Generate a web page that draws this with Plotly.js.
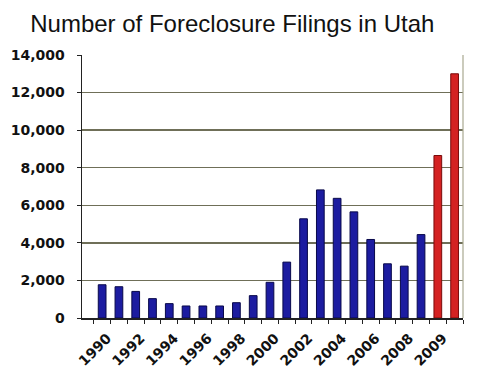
<!DOCTYPE html>
<html>
<head>
<meta charset="utf-8">
<script src="https://cdn.plot.ly/plotly-3.0.1.min.js"></script>
<style>
  html, body { margin: 0; padding: 0; background: #ffffff; }
  #chart { width: 480px; height: 377px; }
</style>
</head>
<body>
<div id="chart"></div>
<script>
// Categories (22 bars); only some carry a visible label in the reference
const categories = ["1990","1991","1992","1993","1994","1995","1996","1997","1998","1999",
  "2000","2001","2002","2003","2004","2005","2006","2007","2008","2008b","2009","2009b"];
const labeledTicks = ["1990","1992","1994","1996","1998","2000","2002","2004","2006","2008","2009"];
// Foreclosure filings
const filings = [1770, 1665, 1415, 1030, 765, 640, 640, 640, 815, 1190,
  1900, 2975, 5280, 6820, 6370, 5650, 4180, 2885, 2760, 4440, 8650, 13000];
// The last two bars are drawn in red
const redCategories = ["2009", "2009b"];
const yTicks = [0, 2000, 4000, 6000, 8000, 10000, 12000, 14000];

const blue = "#1c1ca0", blueLine = "#08084a";
const red = "#d42222", redLine = "#7a0a0a";

const tickText = categories.map(c => labeledTicks.includes(c) ? c : "");
const fillColors = categories.map(c => redCategories.includes(c) ? red : blue);
const lineColors = categories.map(c => redCategories.includes(c) ? redLine : blueLine);

const trace = {
  type: "bar",
  x: categories,
  y: filings,
  width: 0.46,
  marker: { color: fillColors, line: { color: lineColors, width: 1 } },
  hoverinfo: "x+y"
};

const layout = {
  width: 480, height: 377,
  margin: { l: 82, r: 17, t: 54.5, b: 58.7, pad: 0 },
  paper_bgcolor: "#ffffff",
  plot_bgcolor: "#ffffff",
  showlegend: false,
  title: {
    text: "Number of Foreclosure Filings in Utah",
    font: { family: "Liberation Sans, Arial, sans-serif", size: 24, color: "#111111" },
    xref: "container", yref: "container",
    x: 0.484, xanchor: "center",
    y: 1 - 24 / 377, yanchor: "middle"
  },
  xaxis: {
    type: "category",
    categoryorder: "array",
    categoryarray: categories,
    range: [-1.2, 21.5],
    tickmode: "array",
    tickvals: categories,
    ticktext: tickText,
    tickson: "boundaries",
    ticks: "outside", ticklen: 4, tickwidth: 1, tickcolor: "#222222",
    tickangle: -45,
    ticklabelstandoff: 5,
    ticklabelshift: 5,
    tickfont: { family: "DejaVu Sans, Verdana, sans-serif", size: 14, color: "#111111", weight: "bold" },
    showgrid: false,
    showline: true, linecolor: "#222222", linewidth: 1.5,
    zeroline: false,
    fixedrange: true
  },
  yaxis: {
    range: [0, 14000],
    tickmode: "array",
    tickvals: yTicks,
    tickformat: ",",
    ticks: "outside", ticklen: 4, tickwidth: 1, tickcolor: "#222222",
    ticklabelstandoff: 9,
    tickfont: { family: "DejaVu Sans, Verdana, sans-serif", size: 14, color: "#111111", weight: "bold" },
    showgrid: true, gridcolor: "#6f6f58", gridwidth: 1.4,
    showline: true, linecolor: "#222222", linewidth: 1.5,
    zeroline: false,
    fixedrange: true
  },
  shapes: [{
    type: "line", xref: "paper", yref: "paper",
    x0: 1, x1: 1, y0: 0, y1: 1,
    line: { color: "#a8a890", width: 1.2 }
  }]
};

Plotly.newPlot("chart", [trace], layout, { displayModeBar: false, staticPlot: true });
</script>
</body>
</html>
